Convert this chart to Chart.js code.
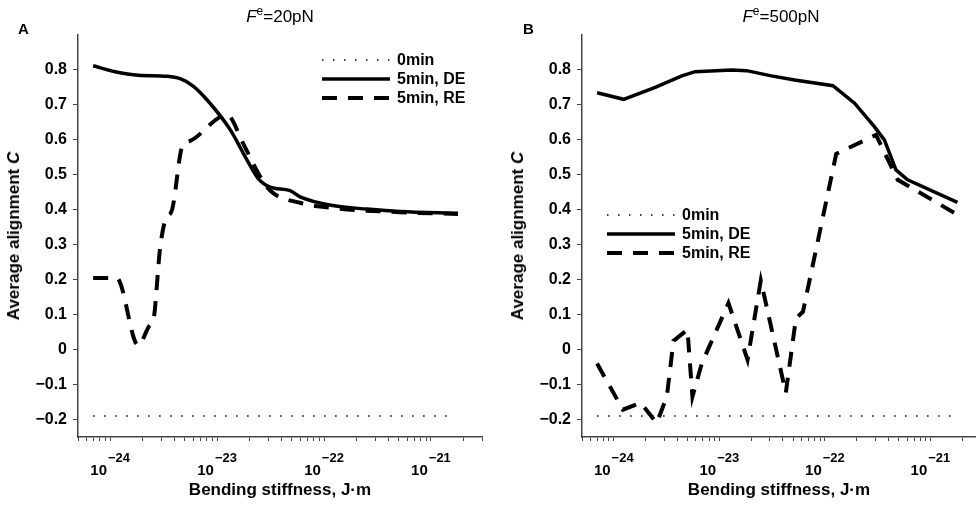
<!DOCTYPE html>
<html>
<head>
<meta charset="utf-8">
<script src="https://cdn.jsdelivr.net/npm/chart.js@4/dist/chart.umd.min.js"></script>
<style>
  body { margin: 0; background: #fff; font-family: 'Liberation Sans', Arial, sans-serif; }
  #wrap { position: relative; width: 976px; height: 508px; overflow: hidden; }
  .panel { position: absolute; top: 0; width: 488px; height: 508px; }
  .letter { position: absolute; top: 20px; font-weight: bold; font-size: 15px; }
  .ttl { position: absolute; top: 7px; font-size: 17px; white-space: nowrap; transform: translateX(-50%); }
  .ttl sup { font-size: 12px; vertical-align: 7px; line-height: 0; }
  .ytl { position: absolute; top: 236px; font-weight: bold; font-size: 17px; white-space: nowrap;
         transform: translate(-50%, -50%) rotate(-90deg); }
</style>
</head>
<body>
<div id="wrap">
  <div class="panel" style="left:0"><canvas id="cA" width="488" height="508"></canvas></div>
  <div class="panel" style="left:488px"><canvas id="cB" width="488" height="508"></canvas></div>
  <div class="letter" style="left:18px">A</div>
  <div class="letter" style="left:523px">B</div>
  <div class="ttl" style="left:280px"><i>F</i><sup>e</sup>=20pN</div>
  <div class="ttl" style="left:781px"><i>F</i><sup>e</sup>=500pN</div>
  <div class="ytl" style="left:14px">Average alignment <i>C</i></div>
  <div class="ytl" style="left:518px">Average alignment <i>C</i></div>
</div>
<script>
const FONT = "'Liberation Sans', Arial, sans-serif";

// axes
const yTicks = [-0.2, -0.1, 0, 0.1, 0.2, 0.3, 0.4, 0.5, 0.6, 0.7, 0.8];
const xDecades = [-25, -24, -23, -22, -21];
const xMantissas = [1, 2, 3, 4, 5, 6, 7, 8, 9];
const xLabelPowers = [-24, -23, -22, -21];
const seriesNames = ['0min', '5min, DE', '5min, RE'];

// panel A, Fe = 20pN
const xA0 = [6.93e-25, 1.57e-21];
const cA0 = [-0.19, -0.19];
const xA_DE = [6.93e-25, 1.11e-24, 1.83e-24, 3.41e-24, 4.51e-24, 5.97e-24, 8.07e-24, 1.32e-23, 1.9e-23,
               2.41e-23, 3.13e-23, 4.81e-23, 5.97e-23, 1.21e-22, 2.52e-22, 5.13e-22, 1.79e-21];
const cA_DE = [0.812, 0.795, 0.785, 0.782, 0.775, 0.754, 0.714, 0.63, 0.543,
               0.49, 0.465, 0.455, 0.437, 0.412, 0.402, 0.395, 0.39];
const xA_RE = [6.93e-25, 1.15e-24, 1.83e-24, 2.36e-24, 2.52e-24, 2.93e-24, 3.27e-24, 3.79e-24, 4.71e-24,
               5.6e-24, 1.24e-23, 1.75e-23, 2.37e-23, 3.13e-23, 5.97e-23, 1.21e-22, 5.13e-22, 1.79e-21];
const cA_RE = [0.205, 0.205, 0.012, 0.07, 0.08, 0.29, 0.37, 0.40, 0.58,
               0.597, 0.671, 0.59, 0.51, 0.455, 0.42, 0.405, 0.393, 0.388];

// panel B, Fe = 500pN
const xB0 = [6.95e-25, 1.68e-21];
const cB0 = [-0.19, -0.19];
const xB_DE = [6.95e-25, 1.24e-24, 2.47e-24, 4.41e-24, 5.89e-24, 1.31e-23, 1.81e-23, 3.11e-23,
               5.18e-23, 1.19e-22, 1.91e-22, 2.94e-22, 3.66e-22, 4.71e-22, 6.07e-22, 1.8e-21];
const cB_DE = [0.735, 0.716, 0.75, 0.783, 0.795, 0.80, 0.798, 0.783,
               0.771, 0.755, 0.705, 0.638, 0.60, 0.514, 0.486, 0.421];
const xB_RE = [6.95e-25, 1.22e-24, 1.80e-24, 2.55e-24, 3.18e-24, 3.68e-24, 4.99e-24, 5.56e-24, 6.81e-24,
               1.22e-23, 1.85e-23, 2.47e-23, 4.26e-23, 5.32e-23, 6.19e-23, 1.28e-22, 3.05e-22, 4.89e-22, 1.8e-21];
const cB_RE = [-0.04, -0.172, -0.152, -0.21, -0.135, 0.025, 0.057, -0.135, -0.04,
               0.133, -0.029, 0.198, -0.124, 0.09, 0.108, 0.56, 0.614, 0.486, 0.386];

const xTickVals = xDecades.flatMap(d => xMantissas.map(m => m * Math.pow(10, d)));

Chart.defaults.font.family = FONT;
Chart.defaults.color = '#000';

const pts = (xs, ys) => xs.map((x, i) => ({ x, y: ys[i] }));
const fmtY = v => (v === 0 ? '0' : (v < 0 ? '\u2212' : '') + Math.abs(v).toFixed(1));

// legend drawn inside the plot area, samples use each dataset's own stroke style
const inLegend = {
  id: 'inLegend',
  afterDatasetsDraw(chart, args, opts) {
    const { ctx, chartArea } = chart;
    ctx.save();
    ctx.font = 'bold 16px ' + FONT;
    ctx.textBaseline = 'middle';
    ctx.textAlign = 'left';
    chart.data.datasets.forEach((ds, i) => {
      const x = chartArea.left + opts.left;
      const y = chartArea.top + opts.top + i * opts.gap;
      ctx.beginPath();
      ctx.setLineDash(ds.borderDash || []);
      ctx.lineWidth = ds.borderWidth;
      ctx.strokeStyle = ds.borderColor;
      ctx.moveTo(x, y);
      ctx.lineTo(x + 68, y);
      ctx.stroke();
      ctx.setLineDash([]);
      ctx.fillStyle = '#000';
      ctx.fillText(ds.label, x + 75, y + 1);
    });
    ctx.restore();
  }
};

// 10^n labels with raised exponent
const powLabels = {
  id: 'powLabels',
  afterDraw(chart) {
    const sc = chart.scales.x, ctx = chart.ctx;
    ctx.save();
    ctx.fillStyle = '#000';
    ctx.textAlign = 'left';
    ctx.textBaseline = 'alphabetic';
    xLabelPowers.forEach(p => {
      const px = sc.getPixelForValue(Math.pow(10, p));
      const ex = '\u2212' + Math.abs(p);
      ctx.font = 'bold 15px ' + FONT;
      const w1 = ctx.measureText('10').width;
      ctx.font = 'bold 13px ' + FONT;
      const w2 = ctx.measureText(ex).width;
      const x0 = px - (w1 + w2 + 1) / 2;
      ctx.font = 'bold 15px ' + FONT;
      ctx.fillText('10', x0, sc.top + 38);
      ctx.font = 'bold 13px ' + FONT;
      ctx.fillText(ex, x0 + w1 + 1, sc.top + 25);
    });
    ctx.restore();
  }
};

function makePanel(id, s0, sDE, sRE, xMax, pad, legendPos, smooth) {
  const curve = smooth ? { cubicInterpolationMode: 'monotone' } : { tension: 0 };
  return new Chart(document.getElementById(id), {
    type: 'line',
    data: {
      datasets: [
        { label: seriesNames[0], data: s0, borderColor: '#000', borderWidth: 1.5,
          borderDash: [1.5, 9.5], pointRadius: 0, tension: 0 },
        { label: seriesNames[1], data: sDE, borderColor: '#000', borderWidth: 3.5,
          pointRadius: 0, ...curve },
        { label: seriesNames[2], data: sRE, borderColor: '#000', borderWidth: 4,
          borderDash: [15, 11], pointRadius: 0, ...curve },
      ]
    },
    options: {
      responsive: false, animation: false,
      layout: { padding: pad },
      plugins: { legend: { display: false }, tooltip: { enabled: false }, inLegend: legendPos },
      scales: {
        x: {
          type: 'logarithmic', min: 5e-25, max: xMax,
          afterBuildTicks: s => { s.ticks = xTickVals.filter(v => v >= 5e-25 && v <= xMax).map(v => ({ value: v })); },
          afterFit: s => { s.height = 71; },
          ticks: { autoSkip: false, callback: () => '' },
          grid: { drawOnChartArea: false, tickLength: 4, color: '#444' },
          border: { color: '#444', width: 1.5 },
          title: { display: true, text: 'Bending stiffness, J\u00b7m',
                   font: { size: 17, weight: 'bold' }, padding: { top: 0, bottom: 7 } }
        },
        y: {
          min: -0.25, max: 0.9,
          afterBuildTicks: s => { s.ticks = yTicks.map(v => ({ value: v })); },
          afterFit: s => { s.width = 78; },
          ticks: { callback: v => fmtY(v), font: { size: 16, weight: 'bold' }, padding: 6 },
          grid: { drawOnChartArea: false, tickLength: 5, color: '#444' },
          border: { color: '#444', width: 1.5 }
        }
      }
    },
    plugins: [inLegend, powLabels]
  });
}

makePanel('cA', pts(xA0, cA0), pts(xA_DE, cA_DE), pts(xA_RE, cA_RE), 3e-21,
  { left: 0, right: 6, top: 35, bottom: 0 }, { left: 244, top: 25, gap: 19 }, true);
makePanel('cB', pts(xB0, cB0), pts(xB_DE, cB_DE), pts(xB_RE, cB_RE), 2.7e-21,
  { left: 16, right: 0, top: 35, bottom: 0 }, { left: 25, top: 180, gap: 19 }, false);
</script>
</body>
</html>
